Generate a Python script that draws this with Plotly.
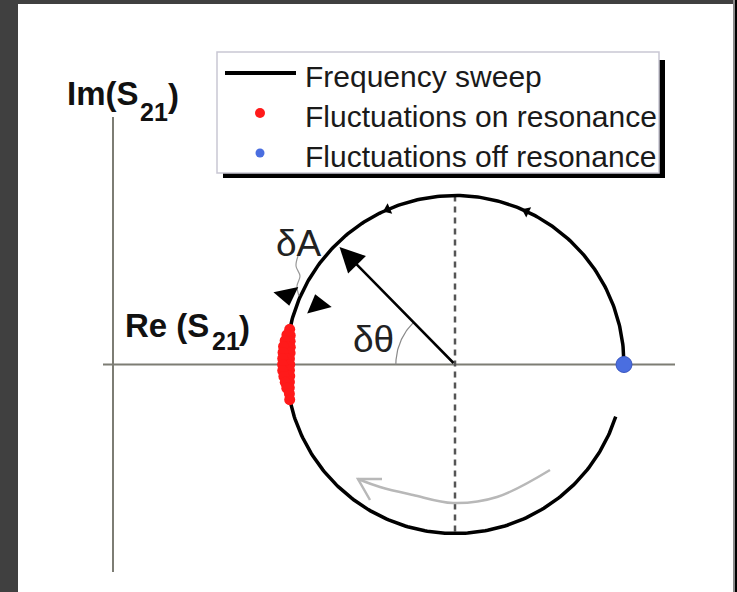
import numpy as np
import plotly.graph_objects as go

# ---------------- data (schematic in units of the resonance-circle radius) ----------------
sweep_radius = 1.0
sweep_start_deg = 0.0          # off-resonance point (right end, on the Re axis)
sweep_end_deg = 342.0          # sweep stops just below the Re axis
sweep_direction_deg = [113.5, 65.0]   # small direction arrowheads on the circle

on_res_theta_deg = [168, 170, 170, 172, 172, 174, 174, 174, 176, 176, 178, 178, 178,
                    180, 180, 182, 182, 182, 184, 184, 186, 186, 188, 188, 190, 192]
on_res_r = [1.0, 0.99, 1.01, 0.985, 1.015, 0.98, 1.0, 1.02, 0.978, 1.02, 0.98, 1.0, 1.02,
            0.978, 1.02, 0.98, 1.0, 1.02, 0.98, 1.015, 0.985, 1.01, 0.99, 1.005, 0.995, 1.0]

off_res_theta_deg = [0.0]
off_res_r = [1.0]

radius_arrow_deg = 134.5
radius_arrow_r = 0.975
delta_theta_arc_r = 0.35

legend_labels = ["Frequency sweep", "Fluctuations on resonance", "Fluctuations off resonance"]

# --------------- pixel -> data helpers for annotation placement ---------------
CX, CY, S = 455.0, 364.5, 169.0
def dx(p):
    return (p - CX) / S
def dy(p):
    return (CY - p) / S

FONT = "Liberation Sans, Arial, sans-serif"

fig = go.Figure()

# axes of the IQ plane
fig.add_trace(go.Scatter(x=[dx(113), dx(113)], y=[dy(117), dy(572)], mode="lines",
                         line=dict(color="#7d7d74", width=2), hoverinfo="skip"))
fig.add_trace(go.Scatter(x=[dx(103), dx(675)], y=[0, 0], mode="lines",
                         line=dict(color="#7d7d74", width=2), hoverinfo="skip"))
# dashed vertical diameter
fig.add_trace(go.Scatter(x=[0, 0], y=[sweep_radius, -sweep_radius], mode="lines",
                         line=dict(color="#555555", width=2.5, dash="6px,5px"), hoverinfo="skip"))

# frequency sweep circle
th = np.radians(np.linspace(sweep_start_deg, sweep_end_deg, 400))
fig.add_trace(go.Scatter(x=sweep_radius * np.cos(th), y=sweep_radius * np.sin(th), mode="lines",
                         line=dict(color="black", width=3.5), name=legend_labels[0], hoverinfo="skip"))

# direction arrowheads on the sweep
dth = np.radians(sweep_direction_deg)
ang = [np.degrees(np.arctan2(-np.sin(t), np.cos(t))) for t in dth]
fig.add_trace(go.Scatter(x=sweep_radius * np.cos(dth), y=sweep_radius * np.sin(dth), mode="markers",
                         marker=dict(symbol="triangle-up", size=10, color="black", angle=ang),
                         hoverinfo="skip"))

# delta-theta arc
ta = np.radians(np.linspace(radius_arrow_deg, 180, 40))
fig.add_trace(go.Scatter(x=delta_theta_arc_r * np.cos(ta), y=delta_theta_arc_r * np.sin(ta), mode="lines",
                         line=dict(color="#8a8a8a", width=1.2), hoverinfo="skip"))

# squiggle from the dA label
fig.add_trace(go.Scatter(x=[dx(298), dx(296), dx(300), dx(297), dx(299)],
                         y=[dy(256), dy(266), dy(276), dy(286), dy(296)], mode="lines",
                         line=dict(color="#999999", width=1.2, shape="spline"), hoverinfo="skip"))

# dA arrowheads
fig.add_trace(go.Scatter(x=[dx(287), dx(318)], y=[dy(295), dy(305)], mode="markers",
                         marker=dict(symbol="triangle-up", size=22, color="black", angle=[168, 345]),
                         hoverinfo="skip"))

# fluctuations on resonance (red)
rt = np.radians(on_res_theta_deg)
fig.add_trace(go.Scatter(x=np.array(on_res_r) * np.cos(rt), y=np.array(on_res_r) * np.sin(rt),
                         mode="markers", marker=dict(size=11, color="#ff1a1a"),
                         name=legend_labels[1], hoverinfo="skip"))

# fluctuations off resonance (blue)
bt = np.radians(off_res_theta_deg)
fig.add_trace(go.Scatter(x=np.array(off_res_r) * np.cos(bt), y=np.array(off_res_r) * np.sin(bt),
                         mode="markers", marker=dict(size=16, color="#4a6ee0", line=dict(color="#3a56c0", width=1)),
                         name=legend_labels[2], hoverinfo="skip"))

# gray sweep-direction arrow at the bottom
gx = [dx(p) for p in [550, 497, 453, 413, 380, 358]]
gy = [dy(p) for p in [470, 497, 503, 495, 487, 479]]
fig.add_trace(go.Scatter(x=gx, y=gy, mode="lines", line=dict(color="#b8b8b8", width=2.5, shape="spline"),
                         hoverinfo="skip"))
fig.add_trace(go.Scatter(x=[dx(382), dx(358), dx(370)], y=[dy(479), dy(479), dy(500)], mode="lines",
                         line=dict(color="#b8b8b8", width=2.5), hoverinfo="skip"))

annotations = []
# radial arrow
ra = np.radians(radius_arrow_deg)
annotations.append(dict(x=radius_arrow_r * np.cos(ra), y=radius_arrow_r * np.sin(ra), ax=0, ay=0,
                        xref="x", yref="y", axref="x", ayref="y", text="", showarrow=True,
                        arrowhead=2, arrowsize=2.0, arrowwidth=2.5, arrowcolor="black", standoff=0))

LAB = dict(family=FONT, size=33, color="#111111")
SUBF = dict(family=FONT, size=25, color="#111111")
annotations += [
    # Im(S21)
    dict(x=dx(65), y=dy(93), text="<b>Im(S</b>", xanchor="left", yanchor="middle", font=LAB),
    dict(x=dx(138), y=dy(112), text="<b>21</b>", xanchor="left", yanchor="middle", font=SUBF),
    dict(x=dx(166), y=dy(95), text="<b>)</b>", xanchor="left", yanchor="middle", font=LAB),
    # Re (S21)
    dict(x=dx(123), y=dy(325), text="<b>Re (S</b>", xanchor="left", yanchor="middle", font=LAB),
    dict(x=dx(210), y=dy(341), text="<b>21</b>", xanchor="left", yanchor="middle", font=SUBF),
    dict(x=dx(237), y=dy(327), text="<b>)</b>", xanchor="left", yanchor="middle", font=LAB),
    dict(x=dx(299), y=dy(243), text="δA", xanchor="center", yanchor="middle",
         font=dict(family=FONT, size=37, color="#222222")),
    dict(x=dx(373), y=dy(339), text="δθ", xanchor="center", yanchor="middle",
         font=dict(family=FONT, size=37, color="#222222")),
]
for i, lab in enumerate(legend_labels):
    annotations.append(dict(x=dx(303), y=dy(76 + 40 * i), text=lab, xanchor="left", yanchor="middle",
                            font=dict(family=FONT, size=30, color="#1a1a1a")))
for a in annotations:
    a.setdefault("showarrow", False)
    a.setdefault("xref", "x")
    a.setdefault("yref", "y")

shapes = [
    # legend shadow and box
    dict(type="rect", x0=dx(223), x1=dx(665), y0=dy(60), y1=dy(178), fillcolor="black", line=dict(width=0)),
    dict(type="rect", x0=dx(217), x1=dx(659), y0=dy(52), y1=dy(173), fillcolor="white",
         line=dict(color="#c9c7d4", width=1.5)),
    # legend samples
    dict(type="line", x0=dx(225), x1=dx(296), y0=dy(73), y1=dy(73), line=dict(color="black", width=4)),
    dict(type="circle", x0=dx(255), x1=dx(265), y0=dy(108), y1=dy(118), fillcolor="#ff1a1a", line=dict(width=0)),
    dict(type="circle", x0=dx(255.5), x1=dx(264.5), y0=dy(148.5), y1=dy(157.5), fillcolor="#4a6ee0",
         line=dict(width=0)),
    # right frame edge
    dict(type="rect", xref="paper", yref="paper", x0=(733 - 18) / 715, x1=(735 - 18) / 715, y0=-0.01, y1=1.01,
         fillcolor="#8a8a8a", line=dict(width=0)),
    dict(type="rect", xref="paper", yref="paper", x0=(735 - 18) / 715, x1=(738 - 18) / 715, y0=-0.01, y1=1.01,
         fillcolor="black", line=dict(width=0)),
]
for s in shapes:
    s.setdefault("xref", "x")
    s.setdefault("yref", "y")
    s.setdefault("layer", "above")

fig.update_layout(
    width=737, height=592,
    margin=dict(l=18, r=4, t=4, b=0),
    paper_bgcolor="#404040", plot_bgcolor="white",
    showlegend=False,
    xaxis=dict(range=[dx(18), dx(733)], visible=False, fixedrange=True),
    yaxis=dict(range=[dy(592), dy(4)], visible=False, fixedrange=True),
    annotations=annotations, shapes=shapes,
)

fig.write_html("out.html")
